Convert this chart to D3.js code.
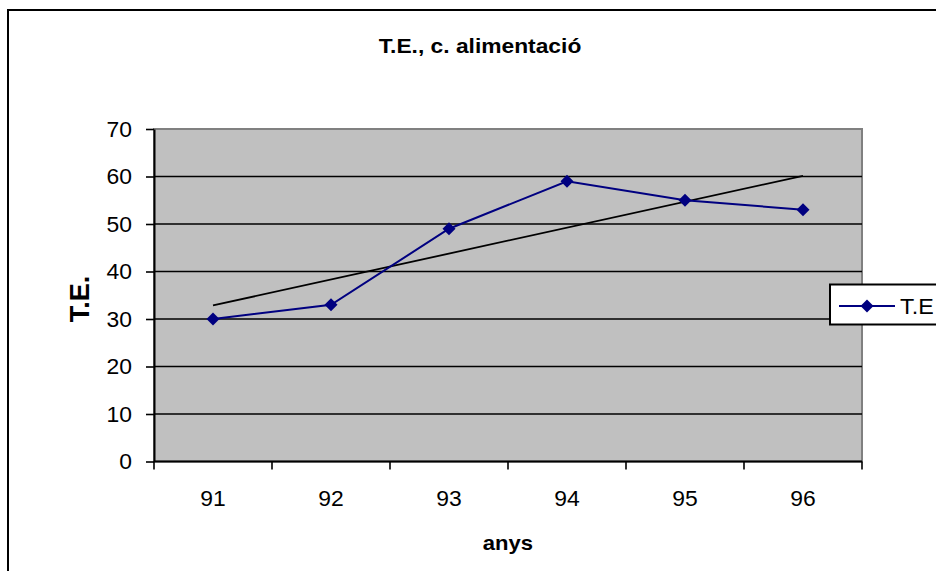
<!DOCTYPE html>
<html>
<head>
<meta charset="utf-8">
<script src="https://cdn.jsdelivr.net/npm/d3@7"></script>
<style>
  html, body { margin: 0; padding: 0; background: #fff; overflow: hidden; }
  svg { display: block; font-family: "Liberation Sans", Arial, sans-serif; }
</style>
</head>
<body>
<svg id="chart" width="936" height="571"></svg>
<script>
// Food-sector T.E. by year
const years = ["91", "92", "93", "94", "95", "96"];
const teValues = [30, 33, 49, 59, 55, 53];
const yTicks = [0, 10, 20, 30, 40, 50, 60, 70];
const chartTitle = "T.E., c. alimentació";
const xTitle = "anys";
const yTitle = "T.E.";
const seriesName = "T.E.";

const svg = d3.select("#chart");

// widen glyphs slightly, keeping the anchor point fixed
function stretch(sel, k) {
  sel.each(function () {
    const len = this.getComputedTextLength();
    d3.select(this).attr("textLength", len * k).attr("lengthAdjust", "spacingAndGlyphs");
  });
}

// outer chart frame (runs off the right and bottom edges)
svg.append("rect")
  .attr("x", 8).attr("y", 10)
  .attr("width", 960).attr("height", 600)
  .attr("fill", "#fff").attr("stroke", "#000").attr("stroke-width", 2);

const plot = { left: 154, right: 862, top: 129, bottom: 461.5 };

const x = d3.scaleBand().domain(years).range([plot.left, plot.right]).padding(0);
const y = d3.scaleLinear().domain([0, 70]).range([plot.bottom, plot.top]);

// plot area background
svg.append("rect")
  .attr("x", plot.left).attr("y", plot.top)
  .attr("width", plot.right - plot.left).attr("height", plot.bottom - plot.top)
  .attr("fill", "#c0c0c0").attr("stroke", "#808080").attr("stroke-width", 2);

// horizontal gridlines
svg.append("g")
  .selectAll("line")
  .data(yTicks.filter(t => t > 0 && t < 70))
  .join("line")
  .attr("x1", plot.left).attr("x2", plot.right)
  .attr("y1", d => y(d)).attr("y2", d => y(d))
  .attr("stroke", "#000").attr("stroke-width", 1.6);

// y axis
const yAxis = svg.append("g")
  .attr("transform", `translate(${plot.left},0)`)
  .call(d3.axisLeft(y).tickValues(yTicks).tickSize(8).tickPadding(14).tickSizeOuter(0));
yAxis.select(".domain").attr("stroke", "#000").attr("stroke-width", 2);
yAxis.selectAll(".tick line").attr("stroke", "#000").attr("stroke-width", 1.6);
yAxis.selectAll(".tick text")
  .attr("font-size", 22).attr("fill", "#000")
  .attr("font-family", "Liberation Sans, Arial, sans-serif")
  .call(stretch, 1.04);

// x axis: ticks sit on category boundaries
const xAxis = svg.append("g")
  .attr("transform", `translate(0,${plot.bottom})`)
  .call(d3.axisBottom(x).tickSize(0).tickPadding(29));
xAxis.select(".domain").remove();
xAxis.selectAll(".tick text")
  .attr("font-size", 22).attr("fill", "#000")
  .attr("font-family", "Liberation Sans, Arial, sans-serif")
  .call(stretch, 1.04);
svg.append("line")
  .attr("x1", plot.left).attr("x2", plot.right)
  .attr("y1", plot.bottom).attr("y2", plot.bottom)
  .attr("stroke", "#000").attr("stroke-width", 2);
const boundaries = years.map(d => x(d)).concat([x(years[years.length - 1]) + x.bandwidth()]);
svg.append("g")
  .selectAll("line")
  .data(boundaries)
  .join("line")
  .attr("x1", d => d).attr("x2", d => d)
  .attr("y1", plot.bottom).attr("y2", plot.bottom + 8)
  .attr("stroke", "#000").attr("stroke-width", 1.6);

// linear trendline (least squares over the series)
const n = teValues.length;
const xs = d3.range(1, n + 1);
const mx = d3.mean(xs), my = d3.mean(teValues);
const slope = d3.sum(xs, (v, i) => (v - mx) * (teValues[i] - my)) / d3.sum(xs, v => (v - mx) ** 2);
const intercept = my - slope * mx;
const cx = d => x(d) + x.bandwidth() / 2;
svg.append("line")
  .attr("x1", cx(years[0])).attr("y1", y(intercept + slope * 1))
  .attr("x2", cx(years[n - 1])).attr("y2", y(intercept + slope * n))
  .attr("stroke", "#000").attr("stroke-width", 1.8);

// data series
const navy = "#000080";
const line = d3.line().x((d, i) => cx(years[i])).y(d => y(d));
svg.append("path")
  .datum(teValues)
  .attr("d", line)
  .attr("fill", "none").attr("stroke", navy).attr("stroke-width", 2);

const diamond = r => `M0,${-r}L${r},0L0,${r}L${-r},0Z`;
svg.append("g")
  .selectAll("path")
  .data(teValues)
  .join("path")
  .attr("transform", (d, i) => `translate(${cx(years[i])},${y(d)})`)
  .attr("d", diamond(6.5))
  .attr("fill", navy);

// titles
svg.append("text")
  .attr("x", 480).attr("y", 53)
  .attr("text-anchor", "middle")
  .attr("font-size", 21).attr("font-weight", "bold")
  .text(chartTitle)
  .call(stretch, 1.085);

svg.append("text")
  .attr("x", 508).attr("y", 550)
  .attr("text-anchor", "middle")
  .attr("font-size", 21).attr("font-weight", "bold")
  .text(xTitle)
  .call(stretch, 1.05);

svg.append("text")
  .attr("transform", `translate(89,299) rotate(-90)`)
  .attr("text-anchor", "middle")
  .attr("font-size", 27).attr("font-weight", "bold")
  .text(yTitle);

// legend (its box is cut by the chart edge)
svg.append("defs").append("clipPath").attr("id", "legend-clip")
  .append("rect").attr("x", 820).attr("y", 270).attr("width", 113.5).attr("height", 70);
const lg = svg.append("g");
lg.append("rect")
  .attr("x", 830).attr("y", 284.5)
  .attr("width", 140).attr("height", 40)
  .attr("fill", "#fff").attr("stroke", "#000").attr("stroke-width", 2);
lg.append("line")
  .attr("x1", 839).attr("x2", 895)
  .attr("y1", 306).attr("y2", 306)
  .attr("stroke", navy).attr("stroke-width", 2);
lg.append("path")
  .attr("transform", "translate(867,306)")
  .attr("d", diamond(6.5))
  .attr("fill", navy);
lg.append("text")
  .attr("x", 900).attr("y", 314)
  .attr("font-size", 22)
  .attr("clip-path", "url(#legend-clip)")
  .text(seriesName)
  .call(stretch, 1.06);
</script>
</body>
</html>
